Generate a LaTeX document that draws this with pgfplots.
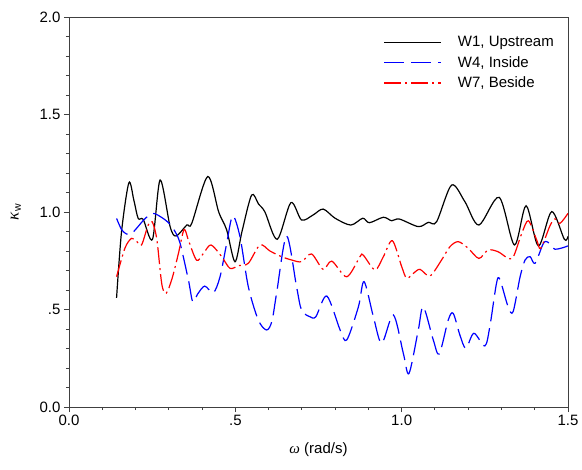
\documentclass[border=0pt]{standalone}
\usepackage{pgfplots}
\pgfplotsset{compat=1.18}
\usepackage{fontspec}
\setmainfont{Liberation Sans}
\newfontfamily\grk{Liberation Serif}
\begin{document}
\begin{tikzpicture}
\useasboundingbox (-69bp,-63bp) rectangle (513bp,407bp);
\begin{axis}[
  at={(0,0)}, anchor=south west,
  width=499bp, height=390bp, scale only axis,
  xmin=0, xmax=1.5, ymin=0, ymax=2,
  xtick={0,0.5,1,1.5}, xticklabels={0.0,.5,1.0,1.5},
  ytick={0,0.5,1,1.5,2}, yticklabels={0.0,.5,1.0,1.5,2.0},
  minor x tick num=4, minor y tick num=4,
  tick align=outside, tick pos=left,
  major tick length=5bp, minor tick length=3bp,
  every tick/.style={black!75, line width=0.9bp},
  axis line style={black!75, line width=0.9bp},
  ticklabel style={font=\fontsize{15bp}{18bp}\selectfont},
  xlabel={{\grk\itshape ω} (rad/s)},
  ylabel={{\grk\itshape\fontsize{17bp}{18bp}\selectfont κ}\textsubscript{w}},
  label style={font=\fontsize{15bp}{18bp}\selectfont},
  xlabel style={yshift=-10bp},
  ylabel style={yshift=12bp},
  legend style={draw=none, fill=none, at={(rel axis cs:0.978,0.958)}, anchor=north east,
    font=\fontsize{15bp}{18bp}\selectfont, row sep=4bp, inner sep=1bp,
    /tikz/every odd column/.append style={column sep=14bp}},
  legend cell align=left,
  legend image code/.code={\draw[#1] (0bp,0bp) -- (57bp,0bp); \path (0bp,0bp) -- (57bp,0bp);},
]
\addplot[black, line width=1.2bp, smooth, tension=0.5] coordinates {
(0.143,0.56) (0.158,0.90) (0.180,1.15) (0.195,1.06) (0.208,0.967) (0.223,0.962)
(0.251,0.86) (0.274,1.164) (0.304,0.925) (0.322,0.877) (0.354,0.933) (0.369,0.942)
(0.417,1.182) (0.450,1.00) (0.474,0.908) (0.499,0.745) (0.520,0.90) (0.549,1.087)
(0.570,1.04) (0.589,1.00) (0.626,0.86) (0.667,1.048) (0.699,0.959) (0.734,0.985)
(0.764,1.015) (0.800,0.968) (0.847,0.933) (0.883,0.968) (0.903,0.945) (0.945,0.973)
(0.970,0.955) (0.993,0.964) (1.050,0.925) (1.080,0.947) (1.105,0.950) (1.150,1.138)
(1.190,1.053) (1.232,0.933) (1.293,1.075) (1.339,0.831) (1.374,1.032) (1.411,0.826)
(1.451,1.002) (1.489,0.860) (1.500,0.875)
};
\addlegendentry{W1, Upstream}
\addplot[blue, line width=1.2bp, smooth, tension=0.5, dash pattern=on 20bp off 7bp] coordinates {
(0.143,0.967) (0.158,0.91) (0.173,0.887) (0.188,0.89) (0.203,0.916) (0.228,0.965)
(0.253,0.993) (0.283,0.967) (0.305,0.935) (0.319,0.899) (0.334,0.839) (0.359,0.651)
(0.372,0.540) (0.387,0.58) (0.408,0.62) (0.434,0.586) (0.454,0.668) (0.474,0.839)
(0.492,0.98) (0.514,0.873) (0.539,0.617) (0.569,0.446) (0.594,0.395) (0.610,0.44)
(0.624,0.583) (0.654,0.877) (0.684,0.617) (0.699,0.497) (0.724,0.463) (0.742,0.463)
(0.775,0.569) (0.815,0.395) (0.835,0.344) (0.870,0.514) (0.887,0.643) (0.915,0.463)
(0.940,0.327) (0.975,0.472) (1.005,0.275) (1.022,0.172) (1.050,0.395) (1.065,0.514)
(1.095,0.344) (1.113,0.272) (1.140,0.446) (1.155,0.480) (1.175,0.369) (1.193,0.301)
(1.217,0.378) (1.250,0.313) (1.265,0.412) (1.285,0.634) (1.295,0.655) (1.320,0.514)
(1.335,0.489) (1.356,0.668) (1.371,0.754) (1.386,0.771) (1.401,0.737) (1.426,0.839)
(1.440,0.845) (1.461,0.809) (1.500,0.826)
};
\addlegendentry{W4, Inside}
\addplot[red, line width=1.2bp, smooth, tension=0.5, dash pattern=on 17bp off 4bp on 2bp off 4bp] coordinates {
(0.143,0.668) (0.168,0.814) (0.188,0.865) (0.203,0.85) (0.218,0.831) (0.238,0.933)
(0.250,0.950) (0.264,0.86) (0.279,0.63) (0.292,0.583) (0.310,0.66) (0.329,0.788)
(0.346,0.91) (0.360,0.85) (0.384,0.752) (0.405,0.79) (0.427,0.831) (0.459,0.771)
(0.484,0.711) (0.510,0.725) (0.539,0.737) (0.574,0.831) (0.604,0.800) (0.639,0.771)
(0.669,0.754) (0.699,0.745) (0.729,0.785) (0.764,0.706) (0.790,0.748) (0.835,0.668)
(0.875,0.772) (0.885,0.778) (0.920,0.703) (0.945,0.771) (0.972,0.853) (1.000,0.720)
(1.015,0.660) (1.035,0.685) (1.055,0.706) (1.085,0.672) (1.120,0.754) (1.145,0.822)
(1.170,0.848) (1.200,0.814) (1.232,0.762) (1.260,0.805) (1.290,0.796) (1.316,0.767)
(1.335,0.768) (1.361,0.89) (1.381,0.955) (1.406,0.856) (1.418,0.814) (1.446,0.93)
(1.461,0.965) (1.476,0.942) (1.500,0.993)
};
\addlegendentry{W7, Beside}
\end{axis}
\end{tikzpicture}
\end{document}
